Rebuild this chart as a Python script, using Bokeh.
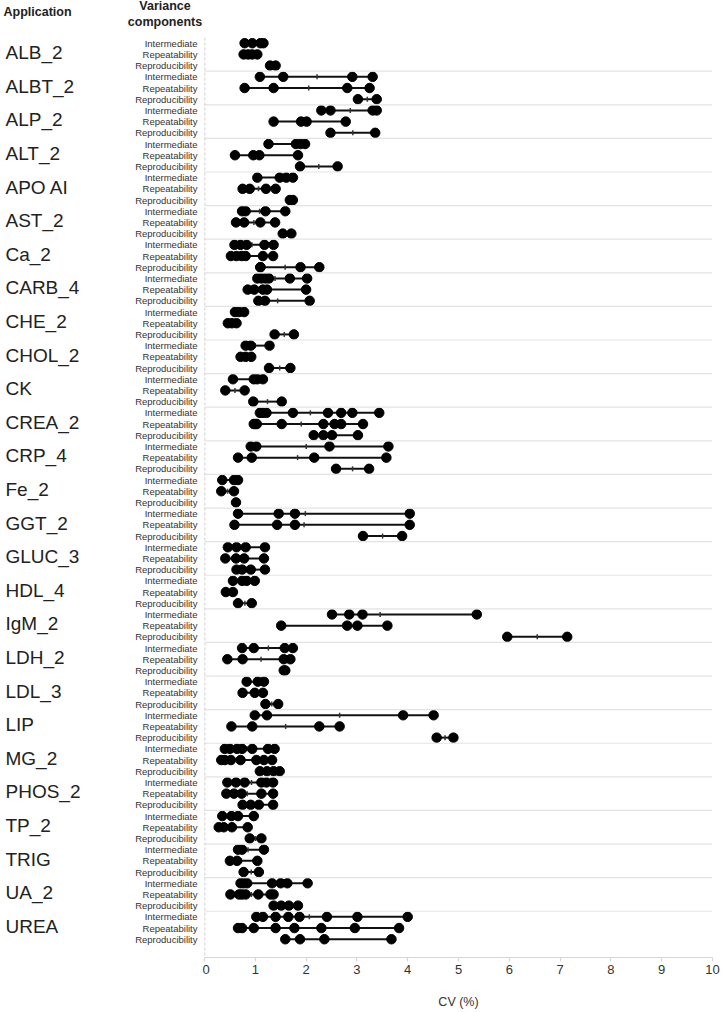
import numpy as np
from bokeh.plotting import figure
from bokeh.layouts import row
from bokeh.models import Range1d, FixedTicker, Span, ColumnDataSource
from bokeh.core.properties import value
from bokeh.embed import file_html
from bokeh.resources import INLINE

# Applications (top to bottom) and the three variance components per application
applications = ["ALB_2", "ALBT_2", "ALP_2", "ALT_2", "APO AI", "AST_2", "Ca_2", "CARB_4",
                "CHE_2", "CHOL_2", "CK", "CREA_2", "CRP_4", "Fe_2", "GGT_2", "GLUC_3",
                "HDL_4", "IgM_2", "LDH_2", "LDL_3", "LIP", "MG_2", "PHOS_2", "TP_2",
                "TRIG", "UA_2", "UREA"]
components = ["Intermediate", "Repeatability", "Reproducibility"]

# CV (%) estimates per application, one list per variance component
intermediate_cv = [
    [0.79, 0.94, 1.10, 1.16],
    [1.09, 1.55, 2.91, 3.31],
    [2.30, 2.48, 3.31, 3.39],
    [1.26, 1.80, 1.89, 1.98],
    [1.04, 1.48, 1.61, 1.74],
    [0.74, 0.81, 1.20, 1.59],
    [0.59, 0.71, 0.83, 1.18, 1.36],
    [1.04, 1.12, 1.20, 1.27, 1.68, 2.02],
    [0.60, 0.68, 0.78],
    [0.81, 0.91, 1.28],
    [0.56, 0.97, 1.04, 1.15],
    [1.09, 1.15, 1.22, 1.74, 2.43, 2.69, 2.91, 3.44],
    [0.91, 1.02, 2.46, 3.62],
    [0.35, 0.58, 0.66],
    [0.66, 1.46, 1.78, 4.04],
    [0.46, 0.63, 0.81, 1.19],
    [0.56, 0.74, 0.83, 0.99],
    [2.51, 2.85, 3.11, 5.36],
    [0.74, 0.97, 1.58, 1.74],
    [0.83, 1.05, 1.17],
    [0.99, 1.23, 3.91, 4.51],
    [0.40, 0.50, 0.64, 0.74, 0.94, 1.25, 1.38],
    [0.45, 0.62, 0.79, 1.12, 1.22, 1.35],
    [0.35, 0.53, 0.66, 0.97],
    [0.66, 0.74, 1.17],
    [0.71, 0.77, 0.84, 1.33, 1.50, 1.63, 2.03],
    [1.02, 1.15, 1.40, 1.65, 1.87, 2.41, 3.01, 4.00],
]
repeatability_cv = [
    [0.77, 0.86, 0.94, 1.04],
    [0.79, 1.36, 2.81, 3.25],
    [1.36, 1.90, 2.01, 2.78],
    [0.60, 0.96, 1.08, 1.84],
    [0.75, 0.89, 1.21, 1.40],
    [0.62, 0.78, 1.10, 1.39],
    [0.52, 0.63, 0.73, 0.81, 1.15, 1.35],
    [0.85, 0.98, 1.15, 1.23, 2.00],
    [0.46, 0.54, 0.63],
    [0.71, 0.81, 0.92],
    [0.41, 0.79],
    [0.97, 1.00, 1.03, 1.52, 2.34, 2.56, 2.69, 3.12],
    [0.66, 0.93, 2.16, 3.58],
    [0.33, 0.58],
    [0.59, 1.43, 1.78, 4.04],
    [0.41, 0.62, 0.78, 1.17],
    [0.42, 0.56],
    [1.51, 2.81, 3.01, 3.60],
    [0.45, 0.75, 1.56, 1.69],
    [0.75, 0.99, 1.15],
    [0.53, 0.94, 2.26, 2.66],
    [0.33, 0.40, 0.52, 0.71, 1.02, 1.17, 1.33],
    [0.43, 0.58, 0.73, 1.12, 1.35],
    [0.28, 0.38, 0.54, 0.85],
    [0.50, 0.64, 1.04],
    [0.51, 0.68, 0.74, 0.81, 1.06, 1.30, 1.36],
    [0.66, 0.74, 0.97, 1.40, 1.77, 2.30, 2.96, 3.83],
]
reproducibility_cv = [
    [1.29, 1.40],
    [3.02, 3.39],
    [2.48, 3.36],
    [1.88, 2.62],
    [1.68, 1.74],
    [1.54, 1.71],
    [1.10, 1.10, 1.89, 2.26],
    [1.06, 1.19, 2.07],
    [1.38, 1.76],
    [1.27, 1.69],
    [0.96, 1.52],
    [2.15, 2.34, 2.51, 3.02],
    [2.59, 3.24],
    [0.62],
    [3.12, 3.89],
    [0.63, 0.74, 0.91, 1.19],
    [0.66, 0.93],
    [5.96, 7.14],
    [1.56, 1.59],
    [1.20, 1.45],
    [4.57, 4.90],
    [1.09, 1.23, 1.36, 1.48],
    [0.75, 0.91, 1.07, 1.35],
    [0.89, 1.12],
    [0.77, 1.07],
    [1.36, 1.51, 1.66, 1.84],
    [1.59, 1.88, 2.36, 3.68],
]
x_ticks = list(range(0, 11))

FONT = "Liberation Sans"
HEIGHT = 1012
TOP, BOTTOM = 37, 55          # borders above / below the plotting frame
ROW_PX = 11.2                 # vertical pixels per row
Y_TOP, Y_BOTTOM = -0.51, 81.63

# one row per (application, component); row index grows downwards
seg = dict(x0=[], x1=[], y=[])
dots = dict(x=[], y=[])
means = dict(x=[], y=[])
comp_rows = dict(y=[], t=[])
for a, app in enumerate(applications):
    for c, series in enumerate([intermediate_cv, repeatability_cv, reproducibility_cv]):
        r = a * 3 + c
        comp_rows["y"].append(r)
        comp_rows["t"].append(components[c])
        vals = series[a]
        if not vals:
            continue
        seg["x0"].append(min(vals))
        seg["x1"].append(max(vals))
        seg["y"].append(r)
        dots["x"].extend(vals)
        dots["y"].extend([r] * len(vals))
        means["x"].append(float(np.mean(vals)))
        means["y"].append(r)

# ---- left panel: headers, application names and component labels ----
LEFT_W = 202
lab = figure(width=LEFT_W, height=HEIGHT, output_backend="svg", toolbar_location=None,
             x_range=Range1d(0, LEFT_W),
             y_range=Range1d(Y_BOTTOM + BOTTOM / ROW_PX, Y_TOP - TOP / ROW_PX),
             x_axis_location=None, y_axis_location=None,
             min_border=0, min_border_left=0, min_border_right=0,
             min_border_top=0, min_border_bottom=0)
lab.frame_align = False
lab.outline_line_color = None
lab.grid.visible = False

lab.text(x=[5] * len(applications), y=[a * 3 + 0.85 for a in range(len(applications))],
         text=applications, text_align="left", text_baseline="middle",
         text_font=value(FONT), text_font_size=value("19px"), text_color="#222222")
lab.text(x=[197] * len(comp_rows["y"]), y=comp_rows["y"], text=comp_rows["t"],
         text_align="right", text_baseline="middle",
         text_font=value(FONT), text_font_size=value("9.5px"), text_color="#333333")
lab.text(x=[3], y=[-2.77], text=["Application"], text_align="left",
         text_baseline="middle", text_font=value(FONT), text_font_size=value("12.5px"),
         text_font_style="bold", text_color="#222222")
lab.text(x=[164.5, 164.5], y=[-3.28, -1.85], text=["Variance", "components"],
         text_align="center", text_baseline="middle", text_font=value(FONT),
         text_font_size=value("12.5px"), text_font_style="bold", text_color="#222222")

# ---- main panel ----
p = figure(width=722 - LEFT_W, height=HEIGHT, output_backend="svg", toolbar_location=None,
           x_range=Range1d(0, 10), y_range=Range1d(Y_BOTTOM, Y_TOP),
           y_axis_location=None,
           min_border_left=2, min_border_right=10, min_border_top=TOP,
           min_border_bottom=BOTTOM)
p.frame_align = False
p.outline_line_color = None
p.xgrid.visible = False
p.ygrid.visible = False

# separators between applications
for k in range(1, len(applications)):
    p.add_layout(Span(location=3 * k - 0.5, dimension="width",
                      line_color="#e3e3e3", line_width=1.2))
# dashed reference line at zero
p.add_layout(Span(location=0, dimension="height", line_color="#c4c4c4",
                  line_width=1.6, line_dash="3 2"))

p.segment(x0="x0", y0="y", x1="x1", y1="y", source=ColumnDataSource(seg),
          line_color="#111111", line_width=2)
p.scatter(x="x", y="y", source=ColumnDataSource(means), marker="dash",
          angle=np.pi / 2, size=5, line_color="#333333", line_width=1.5)
p.scatter(x="x", y="y", source=ColumnDataSource(dots), marker="circle",
          size=9.5, fill_color="black", line_color="black")

xa = p.xaxis[0]
xa.ticker = FixedTicker(ticks=x_ticks)
xa.axis_line_color = "#d6d6d6"
xa.axis_line_width = 1.2
xa.major_tick_line_color = "#d6d6d6"
xa.major_tick_line_width = 1.2
xa.minor_tick_line_color = None
xa.major_tick_in = 0
xa.major_tick_out = 4
xa.major_label_standoff = 3
xa.major_label_text_font = FONT
xa.major_label_text_font_size = "13px"
xa.major_label_text_color = "#333333"
xa.axis_label = "CV (%)"
xa.axis_label_text_font = FONT
xa.axis_label_text_font_size = "12.5px"
xa.axis_label_text_font_style = "normal"
xa.axis_label_text_color = "#333333"
xa.axis_label_standoff = 18

open("out.html", "w").write(file_html(row(lab, p), INLINE))
